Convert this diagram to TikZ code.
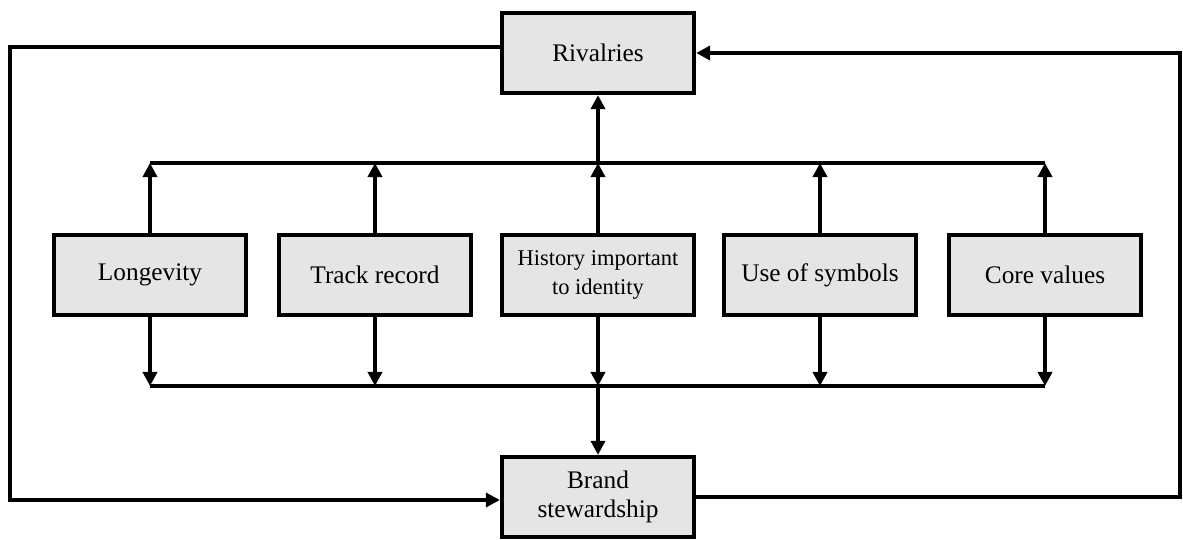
\documentclass[tikz,border=0pt]{standalone}
\usepackage{fontspec}
\setmainfont{Liberation Serif}
\usetikzlibrary{arrows.meta}
\tikzset{
  block/.style={draw, line width=3pt, fill=gray!20, minimum width=4.8cm,
    minimum height=2cm, inner sep=2pt, align=center,
    font=\fontsize{18}{21}\selectfont},
  link/.style={line width=2.6pt},
  flow/.style={link, -{Triangle[width=10pt,length=10pt]}}
}
\begin{document}
\begin{tikzpicture}[x=0.025cm, y=-0.025cm]
\useasboundingbox (0,0) rectangle (1183,539);

% top and bottom boxes
\node[block] (rival) at (598,53) {Rivalries};
\node[block] (brand) at (598,497) {Brand\\stewardship};

% middle row
\node[block] (longev) at (150,275) {Longevity};
\node[block] (track)  at (375,275) {Track record};
\node[block, font=\fontsize{16}{20}\selectfont] (hist) at (598,275) {History important\\to identity};
\node[block] (symb)   at (820,275) {Use of symbols};
\node[block] (core)   at (1045,275) {Core values};

% bus lines
\coordinate (tb) at (598,163);
\coordinate (bb) at (598,386);
\coordinate (lc) at (10,0);
\coordinate (rc) at (1180,0);

\draw[link] (longev.north |- tb) -- (core.north |- tb);
\draw[link] (longev.south |- bb) -- (core.south |- bb);
\foreach \n in {longev,track,hist,symb,core} {
  \draw[flow] (\n.north) -- (\n.north |- tb);
  \draw[flow] (\n.south) -- (\n.south |- bb);
}
\draw[flow] (tb) -- (rival.south);
\draw[flow] (bb) -- (brand.north);

% outer loops
\draw[flow] ([yshift=0.15cm]rival.west) -- ([yshift=0.15cm]rival.west -| lc)
      -- ([yshift=-0.075cm]brand.west -| lc) -- ([yshift=-0.075cm]brand.west);
\draw[flow] (brand.east) -- (brand.east -| rc) -- (rival.east -| rc) -- (rival.east);
\end{tikzpicture}
\end{document}
